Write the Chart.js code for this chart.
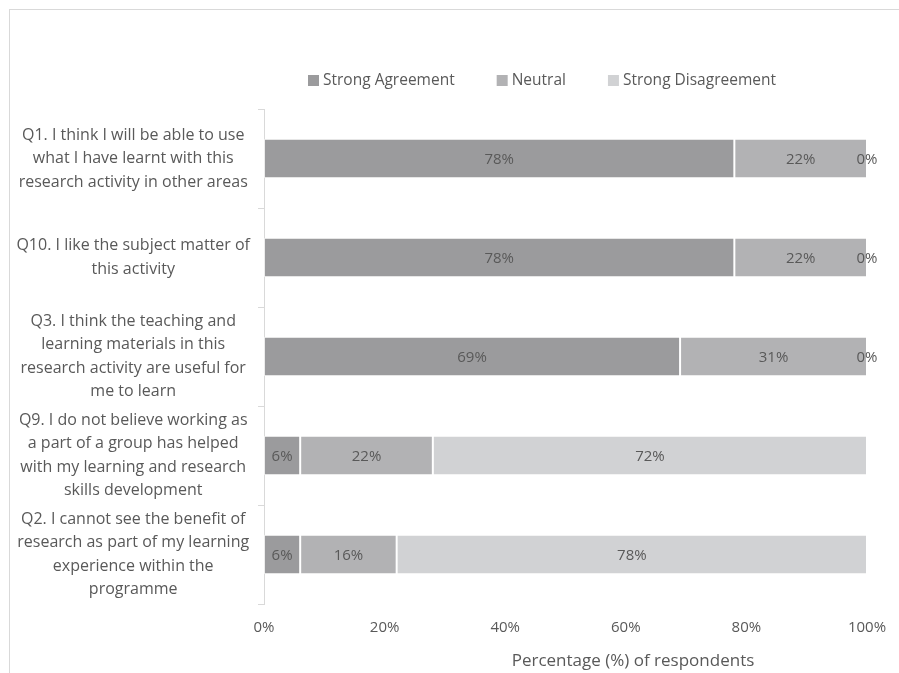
<!DOCTYPE html>
<html lang="en">
<head>
<meta charset="UTF-8">
<title>Survey responses</title>
<script src="https://cdn.jsdelivr.net/npm/chart.js"></script>
<style>
  html, body { margin: 0; background: #fff; overflow: hidden; }
  #frame { position: absolute; left: 9px; top: 9px; width: 889px; height: 663px; border-left: 1px solid #d9d9d9; border-top: 1px solid #d9d9d9; }
  #wrap { position: absolute; left: 0; top: 0; width: 899px; height: 673px; }
</style>
</head>
<body>
<div id="frame"></div>
<div id="wrap"><canvas id="grafico"></canvas></div>
<script>
// questions (top to bottom)
const perguntas = [
  ['Q1. I think I will be able to use', 'what I have learnt with this', 'research activity in other areas'],
  ['Q10. I like the subject matter of', 'this activity'],
  ['Q3. I think the teaching and', 'learning materials in this', 'research activity are useful for', 'me to learn'],
  ['Q9. I do not believe working as', 'a part of a group has helped', 'with my learning and research', 'skills development'],
  ['Q2. I cannot see the benefit of', 'research as part of my learning', 'experience within the', 'programme']
];
const series = ['Strong Agreement', 'Neutral', 'Strong Disagreement'];
const concordo = [78, 78, 69, 6, 6];
const neutro = [22, 22, 31, 22, 16];
const discordo = [0, 0, 0, 72, 78];
const ticksX = [0, 20, 40, 60, 80, 100];
const tituloX = 'Percentage (%) of respondents';

const cores = ['#9b9b9d', '#b2b2b4', '#d1d2d4'];
const corTexto = '#595959';
const fonte = '"Open Sans", sans-serif';

// labels in the middle of each segment
const rotulos = {
  id: 'rotulos',
  afterDatasetsDraw(chart) {
    const ctx = chart.ctx;
    ctx.save();
    ctx.font = '15px ' + fonte;
    ctx.fillStyle = corTexto;
    ctx.textAlign = 'center';
    ctx.textBaseline = 'middle';
    chart.data.datasets.forEach(function (ds, i) {
      chart.getDatasetMeta(i).data.forEach(function (bar, j) {
        ctx.fillText(ds.data[j] + '%', (bar.x + bar.base) / 2, bar.y + 1);
      });
    });
    ctx.restore();
  }
};

// legend and axis title drawn by hand
const extras = {
  id: 'extras',
  afterDraw(chart) {
    const ctx = chart.ctx;
    ctx.save();
    ctx.font = '15.5px ' + fonte;
    ctx.textBaseline = 'middle';
    ctx.textAlign = 'left';
    let x = 308;
    const y = 80;
    chart.data.datasets.forEach(function (ds) {
      ctx.fillStyle = ds.backgroundColor;
      ctx.fillRect(x, y - 5, 11, 11);
      ctx.fillStyle = corTexto;
      ctx.fillText(ds.label, x + 15, y + 1);
      x += 15 + ctx.measureText(ds.label).width + 42;
    });
    ctx.font = '17px ' + fonte;
    ctx.textAlign = 'center';
    ctx.fillText(tituloX, 633, 661);
    ctx.restore();
  }
};

const dados = [concordo, neutro, discordo];

new Chart(document.getElementById('grafico'), {
  type: 'bar',
  data: {
    labels: perguntas,
    datasets: series.map(function (nome, i) {
      return {
        label: nome,
        data: dados[i],
        backgroundColor: cores[i],
        borderColor: 'rgba(255,255,255,0.5)',
        borderWidth: 1,
        borderSkipped: false,
        barPercentage: 0.4,
        categoryPercentage: 1
      };
    })
  },
  options: {
    indexAxis: 'y',
    responsive: true,
    maintainAspectRatio: false,
    animation: false,
    layout: { padding: { top: 109, right: 32, left: 0, bottom: 0 } },
    plugins: { legend: { display: false }, tooltip: { enabled: false } },
    scales: {
      x: {
        stacked: true,
        min: 0,
        max: 100,
        afterBuildTicks: function (scale) {
          scale.ticks = ticksX.map(function (v) { return { value: v }; });
        },
        grid: { display: false, drawTicks: false },
        border: { display: false },
        ticks: {
          padding: 15,
          color: corTexto,
          font: { family: fonte, size: 15 },
          callback: function (v) { return v + '%'; }
        },
        afterFit: function (scale) {
          scale.height = 69;
          scale.paddingLeft = 0;
          scale.paddingRight = 0;
        }
      },
      y: {
        stacked: true,
        grid: { offset: true, drawOnChartArea: false, tickLength: 6, color: '#d9d9d9' },
        border: { display: true, color: '#d9d9d9' },
        ticks: {
          padding: 8,
          crossAlign: 'center',
          color: corTexto,
          font: { family: fonte, size: 16, lineHeight: '23.5px' }
        },
        afterFit: function (scale) { scale.width = 264; }
      }
    }
  },
  plugins: [rotulos, extras]
});
</script>
</body>
</html>
